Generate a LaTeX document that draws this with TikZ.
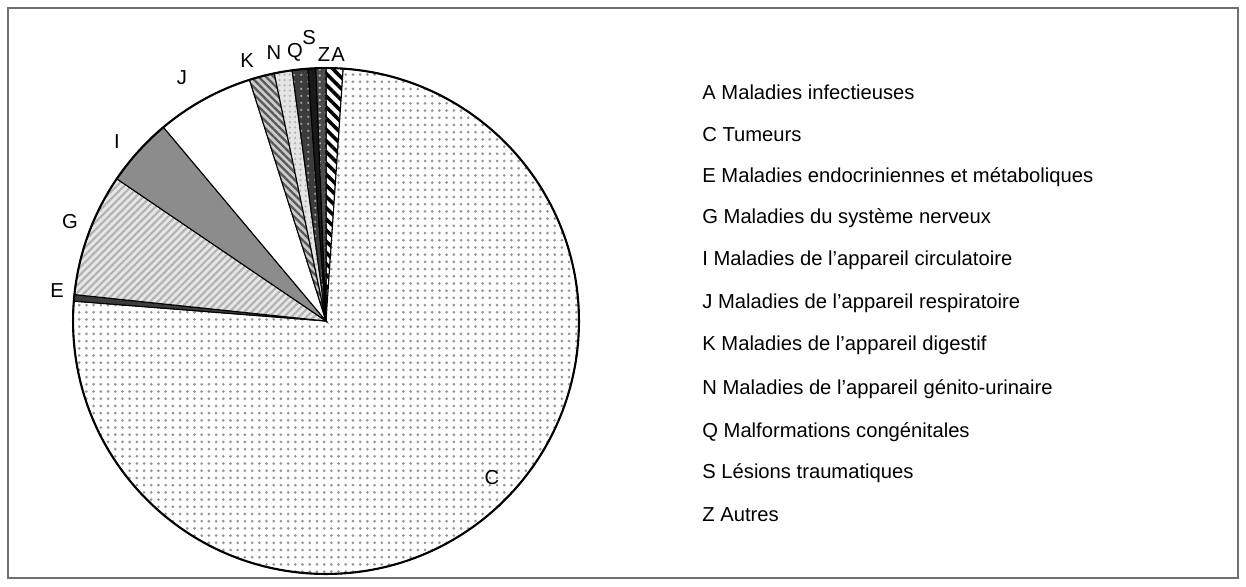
\documentclass[tikz,border=0pt]{standalone}
\usepackage{fontspec}
\setmainfont{Liberation Sans}
\usetikzlibrary{patterns.meta}
\definecolor{cDot}{HTML}{969696}
\definecolor{cDark}{HTML}{3C3C3C}
\definecolor{cMid}{HTML}{8C8C8C}
\definecolor{cLight}{HTML}{E6E6E6}
\definecolor{cFrame}{HTML}{707070}
% one slice of the pie: start angle, end angle, style
\newcommand{\pieslice}[3]{\draw[slice,#3] (326,265) -- ++(#1:5.06cm) arc[start angle=#1, end angle=#2, radius=5.06cm] -- cycle;}

\begin{document}
\begin{tikzpicture}[x=0.02cm, y=0.02cm,
		slice/.style={draw=black, line width=0.6pt},
		lbl/.style={inner sep=0pt, font=\fontsize{11.5}{13}\selectfont},
		legend/.style={lbl, anchor=west},
		patA/.style={preaction={fill=white}, pattern={Lines[angle=-45, distance=4.5pt, line width=2pt]}, pattern color=black},
		patC/.style={preaction={fill=white}, pattern={Dots[distance=4.1pt, radius=0.85pt]}, pattern color=cDot},
		patE/.style={fill=cDark},
		patG/.style={preaction={fill=cLight}, pattern={Lines[angle=45, distance=3pt, line width=1.2pt]}, pattern color=gray!60},
		patI/.style={fill=cMid},
		patJ/.style={fill=white},
		patK/.style={preaction={fill=gray!40}, pattern={Lines[angle=-45, distance=3pt, line width=1.3pt]}, pattern color=black!65},
		patN/.style={preaction={fill=gray!20}, pattern={Dots[distance=3pt, radius=0.7pt]}, pattern color=gray!60},
		patQ/.style={preaction={fill=cDark}, pattern={Dots[distance=4pt, radius=0.8pt]}, pattern color=gray!75},
		patS/.style={fill=black!90},
		patZ/.style={preaction={fill=black!70}, pattern={Dots[distance=3.5pt, radius=0.7pt]}, pattern color=gray!50}]
	\useasboundingbox (0,0) rectangle (1246,586);
	\draw[cFrame, line width=0.6pt] (8,8) rectangle (1238,578);
	% slices, clockwise from the top
	\pieslice{86.1}{90}{patA}
	\pieslice{175.5}{446.1}{patC}
	\pieslice{174}{175.5}{patE}
	\pieslice{145.8}{174}{patG}
	\pieslice{130}{145.8}{patI}
	\pieslice{107.6}{130}{patJ}
	\pieslice{101.8}{107.6}{patK}
	\pieslice{97.7}{101.8}{patN}
	\pieslice{94.1}{97.7}{patQ}
	\pieslice{92.3}{94.1}{patS}
	\pieslice{90}{92.3}{patZ}
	\draw[line width=1.2pt] (326,265) circle[radius=5.06cm];
	% slice labels
	\node[lbl] (labA) at (338,531) {A};
	\node[lbl] (labZ) at (324,531) {Z};
	\node[lbl] (labS) at (309,548) {S};
	\node[lbl] (labQ) at (295,534) {Q};
	\node[lbl] (labN) at (274,533) {N};
	\node[lbl] (labK) at (247,525) {K};
	\node[lbl] (labJ) at (182,508) {J};
	\node[lbl] (labI) at (117,444) {I};
	\node[lbl] (labG) at (70,364) {G};
	\node[lbl] (labE) at (57,295) {E};
	\node[lbl] (labC) at (492,108) {C};
	% legend
	\node[legend] (legA) at (702,494) {A Maladies infectieuses};
	\node[legend] (legC) at (702,451) {C Tumeurs};
	\node[legend] (legE) at (702,409) {E Maladies endocriniennes et métaboliques};
	\node[legend] (legG) at (702,368) {G Maladies du système nerveux};
	\node[legend] (legI) at (702,326) {I Maladies de l’appareil circulatoire};
	\node[legend] (legJ) at (702,283) {J Maladies de l’appareil respiratoire};
	\node[legend] (legK) at (702,241) {K Maladies de l’appareil digestif};
	\node[legend] (legN) at (702,197) {N Maladies de l’appareil génito-urinaire};
	\node[legend] (legQ) at (702,154) {Q Malformations congénitales};
	\node[legend] (legS) at (702,113) {S Lésions traumatiques};
	\node[legend] (legZ) at (702,71) {Z Autres};
\end{tikzpicture}
\end{document}
